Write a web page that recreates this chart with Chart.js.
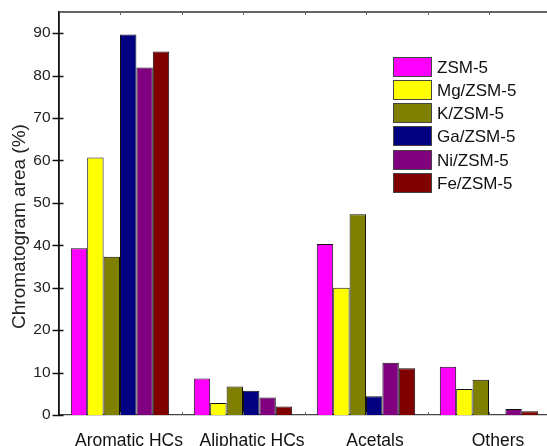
<!DOCTYPE html>
<html>
<head>
<meta charset="utf-8">
<script src="https://cdn.jsdelivr.net/npm/chart.js@4/dist/chart.umd.min.js"></script>
<style>
  html, body { margin: 0; padding: 0; background: #fff; overflow: hidden; }
  #wrap { position: absolute; left: 0; top: 0; width: 552px; height: 446px; }
</style>
</head>
<body>
<div id="wrap"><canvas id="c"></canvas></div>
<script>
// Product groups found in the chromatograms
const categories = ['Aromatic HCs', 'Aliphatic HCs', 'Acetals', 'Others'];

// Chromatogram area (%) for each catalyst, in category order
const zsm5   = [39.3, 8.6, 40.3, 11.4];
const mgZsm5 = [60.7, 2.8, 30.0, 6.1];
const kZsm5  = [37.3, 6.7, 47.3, 8.3];
const gaZsm5 = [89.7, 5.7, 4.4, 0];
const niZsm5 = [81.9, 4.1, 12.3, 1.4];
const feZsm5 = [85.7, 2.0, 11.0, 0.9];

const seriesNames = ['ZSM-5', 'Mg/ZSM-5', 'K/ZSM-5', 'Ga/ZSM-5', 'Ni/ZSM-5', 'Fe/ZSM-5'];
const seriesValues = [zsm5, mgZsm5, kZsm5, gaZsm5, niZsm5, feZsm5];
const seriesColors = ['#FF00FF', '#FFFF00', '#808000', '#000080', '#800080', '#800000'];

// Y-axis tick labels
const yTicks = [0, 10, 20, 30, 40, 50, 60, 70, 80, 90];
const yTitle = 'Chromatogram area (%)';

const FONT = "'Liberation Sans', Arial, sans-serif";

// Axis frame, tick marks, y-axis title and legend
const framePlugin = {
  id: 'frame',
  afterDraw(chart) {
    const ctx = chart.ctx;
    const area = chart.chartArea;
    const x = chart.scales.x;
    const y = chart.scales.y;
    ctx.save();

    // top border
    ctx.strokeStyle = '#333';
    ctx.lineWidth = 1.5;
    ctx.beginPath();
    ctx.moveTo(area.left, area.top);
    ctx.lineTo(area.right + 2, area.top);
    ctx.stroke();

    // y-axis ticks (crossing the axis)
    ctx.strokeStyle = '#111';
    ctx.lineWidth = 1.5;
    yTicks.forEach(v => {
      const py = Math.round(y.getPixelForValue(v)) + 0.5;
      ctx.beginPath();
      ctx.moveTo(area.left - 6, py);
      ctx.lineTo(area.left + 5, py);
      ctx.stroke();
    });

    // x-axis ticks at group centres and between groups (bottom and top)
    ctx.strokeStyle = '#666';
    ctx.lineWidth = 1;
    categories.forEach((c, i) => {
      const cx = x.getPixelForTick(i);
      const half = (x.getPixelForTick(1) - x.getPixelForTick(0)) / 2;
      [cx, cx + half].forEach(px => {
        const p = Math.round(px) + 0.5;
        ctx.beginPath();
        ctx.moveTo(p, area.bottom);
        ctx.lineTo(p, area.bottom - 3);
        ctx.moveTo(p, area.top);
        ctx.lineTo(p, area.top + 3);
        ctx.stroke();
      });
    });

    // y-axis title
    ctx.fillStyle = '#222';
    ctx.font = '19px ' + FONT;
    ctx.textAlign = 'center';
    ctx.textBaseline = 'middle';
    ctx.translate(19.5, 226.5);
    ctx.rotate(-Math.PI / 2);
    ctx.fillText(yTitle, 0, 0);
    ctx.setTransform(1, 0, 0, 1, 0, 0);

    // legend
    const lx = 393.5, ly = 56.5, bw = 38, bh = 19, pitch = 23.3;
    ctx.font = '17px ' + FONT;
    ctx.textAlign = 'left';
    ctx.textBaseline = 'middle';
    chart.data.datasets.forEach((ds, i) => {
      const top = Math.round(ly + i * pitch) + 0.5;
      ctx.fillStyle = ds.backgroundColor;
      ctx.fillRect(lx, top, bw, bh);
      ctx.strokeStyle = '#444';
      ctx.lineWidth = 1;
      ctx.strokeRect(lx, top, bw, bh);
      ctx.fillStyle = '#111';
      ctx.fillText(ds.label, 437, top + bh / 2 + 1);
    });
    ctx.restore();
  }
};

new Chart(document.getElementById('c'), {
  type: 'bar',
  data: {
    labels: categories,
    datasets: seriesNames.map((name, i) => ({
      label: name,
      data: seriesValues[i],
      backgroundColor: seriesColors[i],
      borderColor: '#111',
      borderWidth: 1,
      borderSkipped: 'bottom'
    }))
  },
  options: {
    responsive: true,
    maintainAspectRatio: false,
    animation: false,
    devicePixelRatio: 1,
    layout: { padding: { top: 0, right: 1.5, left: 0, bottom: 0 } },
    datasets: { bar: { categoryPercentage: 0.8, barPercentage: 1.0 } },
    plugins: { legend: { display: false }, tooltip: { enabled: false } },
    scales: {
      x: {
        offset: true,
        grid: { display: false, drawTicks: false },
        border: { display: true, color: '#444', width: 1.2 },
        ticks: { color: '#111', font: { family: FONT, size: 17.5 }, padding: 16, maxRotation: 0, labelOffset: 9 },
        afterFit(scale) { scale.height = 31; }
      },
      y: {
        min: 0,
        max: 95,
        grid: { display: false, drawTicks: false },
        border: { display: true, color: '#111', width: 1.8 },
        ticks: { color: '#222', font: { family: FONT, size: 15.5 }, padding: 8 },
        afterBuildTicks(scale) { scale.ticks = yTicks.map(v => ({ value: v })); },
        afterFit(scale) {
          scale.width = 58.5;
          scale.paddingTop = 12;
          scale.paddingBottom = 0;
        }
      }
    }
  },
  plugins: [framePlugin]
});
</script>
</body>
</html>
